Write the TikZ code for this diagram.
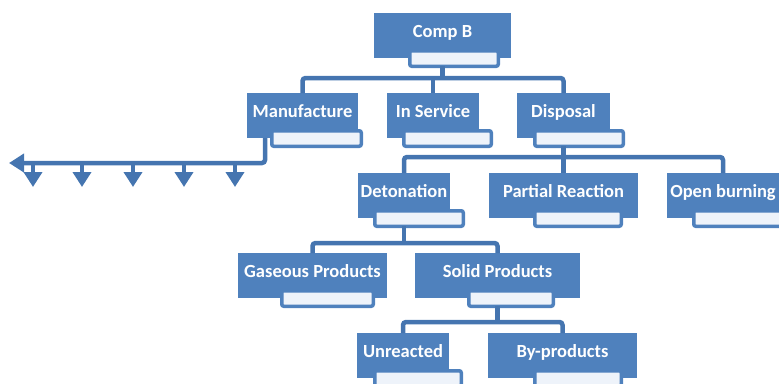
\documentclass[tikz,border=0pt]{standalone}
\usepackage{fontspec}
\newfontfamily\chartfont{Carlito}
\usetikzlibrary{arrows.meta}
\definecolor{boxblue}{RGB}{79,129,189}
\definecolor{lineblue}{RGB}{69,117,176}
\definecolor{tagfill}{RGB}{238,243,250}
\tikzset{
  mainbox/.style={fill=boxblue, text=white, minimum height=45pt, inner sep=0pt, outer sep=0pt,
    font=\chartfont\bfseries\fontsize{18.5}{20}\selectfont, text height=12pt, text depth=8pt},
  tagbox/.style={fill=tagfill, draw=boxblue, line width=3.5pt, minimum height=15.5pt,
    inner sep=0pt, outer sep=0pt, rounded corners=2pt},
  link/.style={draw=lineblue, line width=4.5pt, rounded corners=3pt},
  arrowlink/.style={link, -{Triangle[length=15pt,width=18pt]}}
}

\begin{document}
\begin{tikzpicture}[x=1pt, y=-1pt]
   \useasboundingbox (0, 0) rectangle (779, 383);
   \clip (0, 0) rectangle (779, 383);

   % top
   \node[mainbox, minimum width=137pt] (compb) at (442.5, 35.5) {Comp B};
   \node[tagbox, minimum width=88.5pt] (compb-t) at (454, 58.5) {};

   % second row
   \node[mainbox, minimum width=111pt] (manuf) at (302.5, 115.5) {Manufacture};
   \node[tagbox, minimum width=89.5pt] (manuf-t) at (316.5, 138.5) {};
   \node[mainbox, minimum width=92pt] (service) at (433, 115.5) {In Service};
   \node[tagbox, minimum width=87.5pt] (service-t) at (447.5, 138.5) {};
   \node[mainbox, minimum width=93pt] (disposal) at (563.5, 115.5) {Disposal};
   \node[tagbox, minimum width=88.5pt] (disposal-t) at (579, 138.5) {};

   % third row
   \node[mainbox, minimum width=92pt] (deton) at (404, 195.5) {Detonation};
   \node[tagbox, minimum width=88.5pt] (deton-t) at (419, 218.5) {};
   \node[mainbox, minimum width=149pt] (partial) at (563.5, 195.5) {Partial Reaction};
   \node[tagbox, minimum width=86.5pt] (partial-t) at (578, 218.5) {};
   \node[mainbox, minimum width=112pt] (openburn) at (723, 195.5) {Open burning};
   \node[tagbox, minimum width=88.5pt] (openburn-t) at (738, 218.5) {};

   % fourth row
   \node[mainbox, minimum width=149pt] (gaseous) at (312.5, 275.5) {Gaseous Products};
   \node[tagbox, minimum width=91.5pt] (gaseous-t) at (327.5, 298.5) {};
   \node[mainbox, minimum width=165pt] (solid) at (497.5, 275.5) {Solid Products};
   \node[tagbox, minimum width=84.5pt] (solid-t) at (511, 298.5) {};

   % bottom row
   \node[mainbox, minimum width=92pt] (unreact) at (403, 355.5) {Unreacted};
   \node[tagbox, minimum width=86.5pt] (unreact-t) at (418, 378.5) {};
   \node[mainbox, minimum width=149pt] (byprod) at (562.5, 355.5) {By-products};
   \node[tagbox, minimum width=86.5pt] (byprod-t) at (578, 378.5) {};

   % bars
   \coordinate (bar1) at (0, 78);
   \coordinate (bar2) at (0, 157);
   \coordinate (bar3) at (0, 243);
   \coordinate (bar4) at (0, 322);

   \draw[link] (compb.center |- compb-t.south) -- (compb.center |- bar1);
   \draw[link] (manuf.north) |- (disposal.north |- bar1) -- (disposal.north);
   \draw[link] (service.north |- bar1) -- (service.north);

   \draw[link] (disposal.center |- disposal-t.south) -- (disposal.center |- bar2);
   \draw[link] (deton.north) |- (openburn.north |- bar2) -- (openburn.north);
   \draw[link] (partial.north |- bar2) -- (partial.north);

   \draw[link] (deton.center |- deton-t.south) -- (deton.center |- bar3);
   \draw[link] (gaseous.north) |- (solid.north |- bar3) -- (solid.north);

   \draw[link] (solid.center |- solid-t.south) -- (solid.center |- bar4);
   \draw[link] (unreact.north) |- (byprod.north |- bar4) -- (byprod.north);

   % manufacture outputs
   \coordinate (mfork) at (265, 163);
   \coordinate (mend) at (9, 163);
   \draw[arrowlink] (mfork |- manuf.south) -- (mfork) -- (mend);
   \foreach \x in {33, 82, 133, 184, 235} {
     \coordinate (tip\x) at (\x, 187);
     \draw[arrowlink] (tip\x |- mend) -- (tip\x);
   }
\end{tikzpicture}
\end{document}
